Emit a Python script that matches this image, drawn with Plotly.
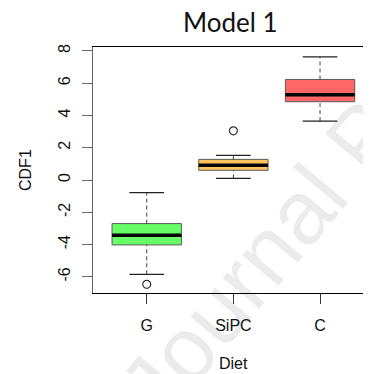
import plotly.graph_objects as go

categories = ["G", "SiPC", "C"]
lower_whisker = [-5.84, 0.10, 3.65]
q1 = [-4.02, 0.60, 4.85]
median = [-3.43, 0.91, 5.28]
q3 = [-2.70, 1.28, 6.23]
upper_whisker = [-0.78, 1.53, 7.63]
outliers = [[-6.46], [3.05], []]
colors = ["#66FF66", "#FFC360", "#FF6666"]
y_ticks = [-6, -4, -2, 0, 2, 4, 6, 8]
y_tick_labels = ["-6", "-4", "-2", "0", "2", "4", "6", "8"]

box_w = 0.8
cap_w = 0.4
pos = [i + 1 for i in range(len(categories))]

fig = go.Figure()

# boxes
fig.add_trace(go.Bar(
    x=pos, y=[b - a for a, b in zip(q1, q3)], base=q1, width=box_w,
    marker=dict(color=colors, line=dict(color="#5a5a5a", width=1)),
    showlegend=False, hoverinfo="skip"))

for i, p in enumerate(pos):
    # dashed whiskers
    fig.add_trace(go.Scatter(x=[p, p], y=[q3[i], upper_whisker[i]], mode="lines",
                             line=dict(color="#444444", width=1, dash="4px,3px"), showlegend=False))
    fig.add_trace(go.Scatter(x=[p, p], y=[lower_whisker[i], q1[i]], mode="lines",
                             line=dict(color="#444444", width=1, dash="4px,3px"), showlegend=False))
    # caps
    for v in (upper_whisker[i], lower_whisker[i]):
        fig.add_trace(go.Scatter(x=[p - cap_w / 2, p + cap_w / 2], y=[v, v], mode="lines",
                                 line=dict(color="#222222", width=1.2), showlegend=False))
    # median
    fig.add_trace(go.Scatter(x=[p - box_w / 2, p + box_w / 2], y=[median[i], median[i]], mode="lines",
                             line=dict(color="#000000", width=3.5), showlegend=False))
    # outliers
    if outliers[i]:
        fig.add_trace(go.Scatter(x=[p] * len(outliers[i]), y=outliers[i], mode="markers",
                                 marker=dict(symbol="circle-open", size=8, color="#333333",
                                             line=dict(width=1.2)), showlegend=False))

fig.update_layout(
    width=363, height=366,
    margin=dict(l=85, r=0, t=39, b=81, autoexpand=False),
    paper_bgcolor="white", plot_bgcolor="white",
    font=dict(family="Liberation Sans, Arial", size=16, color="#111111"),
    showlegend=False,
    xaxis=dict(range=[0.38, 3.588], tickmode="array", tickvals=pos, ticktext=categories,
               showgrid=False, zeroline=False, showline=True, mirror=True, automargin=False,
               linecolor="#000000", linewidth=1.2, ticks="outside", ticklen=10,
               tickcolor="#333333", ticklabelstandoff=8),
    yaxis=dict(range=[-7.0, 8.24], tickmode="array", tickvals=y_ticks, ticktext=y_tick_labels,
               showgrid=False, zeroline=False, showline=True, mirror=False, automargin=False,
               linecolor="#666666", linewidth=1.2, ticks="outside", ticklen=10,
               tickcolor="#666666", tickangle=-90, ticklabelstandoff=6),
    annotations=[
        dict(text="Journal Pre-proof", xref="paper", yref="paper",
             x=(354 - 85) / 278, y=1 - (130 - 39) / 246, xanchor="center", yanchor="middle",
             textangle=-50, showarrow=False,
             font=dict(family="Liberation Sans, Arial", size=90, color="rgba(0,0,0,0.08)")),
        dict(text="Model 1", xref="paper", yref="paper", x=(230 - 93) / 278, y=1,
             yanchor="middle", yshift=47 - 22, showarrow=False,
             font=dict(family="Lato", size=26, color="#111111")),
        dict(text="Diet", xref="x", yref="paper", x=2, y=0, yanchor="middle",
             yshift=-70, showarrow=False, font=dict(size=16)),
        dict(text="CDF1", xref="paper", yref="paper", x=0, y=0.5, xanchor="center",
             xshift=-68, textangle=-90, showarrow=False, font=dict(size=16)),
    ],
)

fig.write_html("out.html")
